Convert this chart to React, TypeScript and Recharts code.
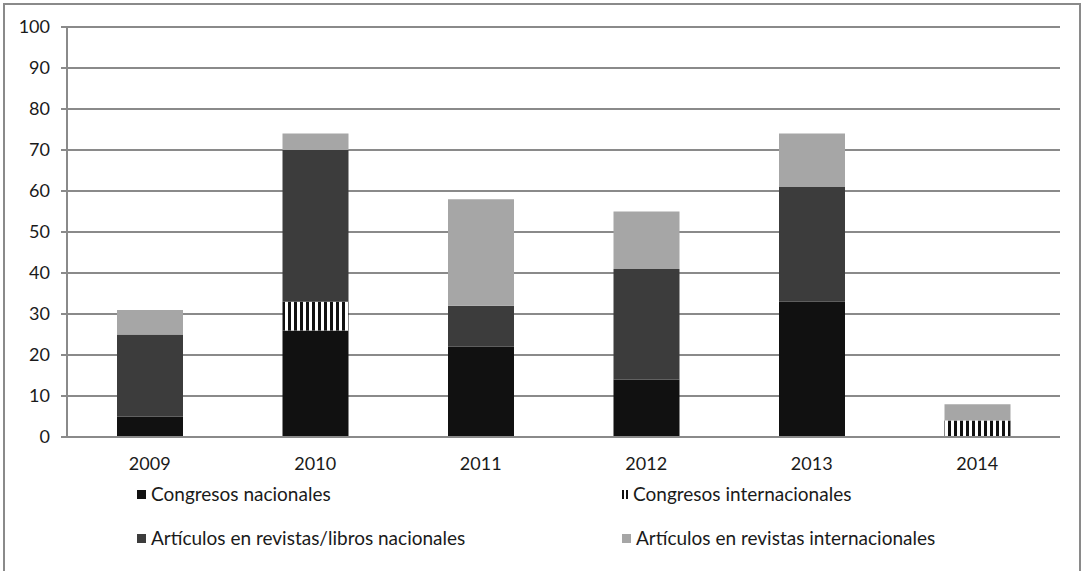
import { BarChart, Bar, XAxis, YAxis, CartesianGrid } from 'recharts';

const YEARS = ['2009', '2010', '2011', '2012', '2013', '2014'];
const CONGRESOS_NAC = [5, 26, 22, 14, 33, 0];
const CONGRESOS_INT = [0, 7, 0, 0, 0, 4];
const ARTICULOS_NAC = [20, 37, 10, 27, 28, 0];
const ARTICULOS_INT = [6, 4, 26, 14, 13, 4];
const Y_TICKS = [0, 10, 20, 30, 40, 50, 60, 70, 80, 90, 100];

const data = YEARS.map((year, i) => ({
  year,
  cn: CONGRESOS_NAC[i],
  ci: CONGRESOS_INT[i],
  an: ARTICULOS_NAC[i],
  ai: ARTICULOS_INT[i],
}));

const FONT = 'Lato, "Open Sans", sans-serif';
const TICK = { fill: '#1a1a1a', fontSize: 18, fontFamily: FONT };

function LegendItem({ label, icon }: { label: string; icon: React.ReactNode }) {
  return (
    <div style={{ display: 'flex', alignItems: 'center', gap: 5 }}>
      {icon}
      <span>{label}</span>
    </div>
  );
}

const square = (color: string) => (
  <span style={{ display: 'inline-block', width: 9, height: 9, background: color }} />
);

export default function App() {
  return (
    <div
      style={{
        position: 'absolute',
        left: 0,
        top: 0,
        width: 1086,
        height: 571,
        background: '#fff',
        overflow: 'hidden',
        fontFamily: FONT,
      }}
    >
      <div
        style={{
          position: 'absolute',
          left: 3,
          top: 3,
          width: 1078,
          height: 580,
          border: '2px solid #8a8a8a',
          boxSizing: 'border-box',
        }}
      />
      <BarChart
        width={1086}
        height={571}
        data={data}
        margin={{ top: 27, right: 26, left: 17, bottom: 104 }}
        style={{ position: 'absolute', left: 0, top: 0 }}
      >
        <defs>
          <pattern id="stripes" width="6" height="10" patternUnits="userSpaceOnUse">
            <rect x="0" y="0" width="6" height="10" fill="#fff" />
            <rect x="0" y="0" width="3" height="10" fill="#111" />
          </pattern>
        </defs>
        <CartesianGrid vertical={false} stroke="#8a8a8a" strokeWidth={2} />
        <XAxis
          dataKey="year"
          tick={TICK}
          tickLine={false}
          axisLine={{ stroke: '#8a8a8a', strokeWidth: 2 }}
          height={30}
          tickMargin={14}
        />
        <YAxis
          domain={[0, 100]}
          ticks={Y_TICKS}
          tick={TICK}
          tickLine={{ stroke: '#8a8a8a', strokeWidth: 2 }}
          tickSize={6}
          tickMargin={11}
          axisLine={{ stroke: '#8a8a8a', strokeWidth: 2 }}
          width={50}
          interval={0}
        />
        <Bar dataKey="cn" stackId="a" fill="#111" barSize={66} isAnimationActive={false} />
        <Bar dataKey="ci" stackId="a" fill="url(#stripes)" barSize={66} isAnimationActive={false} />
        <Bar dataKey="an" stackId="a" fill="#3c3c3c" barSize={66} isAnimationActive={false} />
        <Bar dataKey="ai" stackId="a" fill="#a6a6a6" barSize={66} isAnimationActive={false} />
      </BarChart>
      <div
        style={{
          position: 'absolute',
          left: 137,
          top: 483,
          width: 900,
          display: 'grid',
          gridTemplateColumns: '485px 415px',
          rowGap: 22,
          fontSize: 19,
          color: '#1a1a1a',
          lineHeight: '22px',
        }}
      >
        <LegendItem label="Congresos nacionales" icon={square('#111')} />
        <LegendItem
          label="Congresos internacionales"
          icon={
            <span
              style={{
                display: 'inline-block',
                width: 6,
                height: 9,
                borderLeft: '2px solid #111',
                borderRight: '2px solid #111',
                boxSizing: 'border-box',
              }}
            />
          }
        />
        <LegendItem label="Artículos en revistas/libros nacionales" icon={square('#3c3c3c')} />
        <LegendItem label="Artículos en revistas internacionales" icon={square('#a6a6a6')} />
      </div>
    </div>
  );
}
